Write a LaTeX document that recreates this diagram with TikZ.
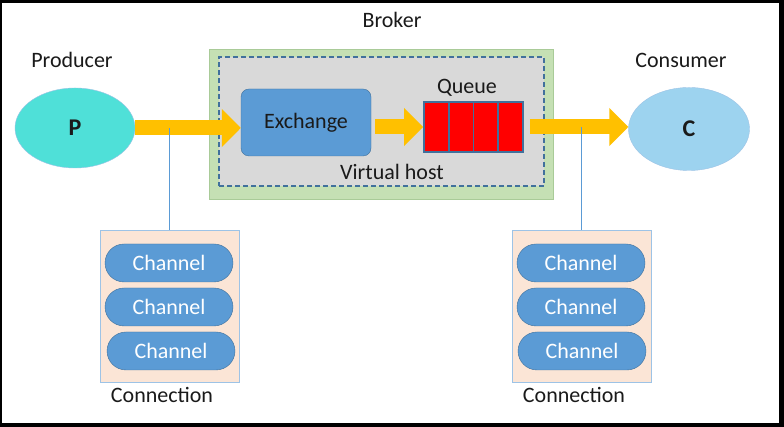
\documentclass[tikz,border=0pt]{standalone}
\usepackage{fontspec}
\setmainfont{Carlito}
\usetikzlibrary{arrows.meta,positioning,shapes.geometric}

\definecolor{txt}{HTML}{1A1A1A}
\definecolor{prodfill}{HTML}{4FE0D8}
\definecolor{consfill}{HTML}{9DD3EF}
\definecolor{brokfill}{HTML}{C5E0B4}
\definecolor{brokline}{HTML}{A9CB98}
\definecolor{hostfill}{HTML}{D9D9D9}
\definecolor{darkblue}{HTML}{41719C}
\definecolor{midblue}{HTML}{5B9BD5}
\definecolor{lightblue}{HTML}{9DC3E6}
\definecolor{connfill}{HTML}{FBE5D6}
\definecolor{flowcol}{HTML}{FFC000}

\begin{document}
\begin{tikzpicture}[x=1pt,y=1pt,node distance=44pt,font=\fontsize{22}{26}\selectfont]
  \tikzstyle{caption}=[text=txt,inner sep=0pt]
  \tikzstyle{client}=[ellipse,draw=lightblue,thin,text=txt,font=\fontsize{24}{28}\selectfont\bfseries]
  \tikzstyle{chan}=[draw=darkblue,fill=midblue,text=white,rounded corners=19pt,minimum width=128pt,minimum height=38pt,inner sep=0pt]
  \tikzstyle{conn}=[draw=lightblue,fill=connfill,minimum width=139pt,minimum height=152pt]
  \tikzstyle{cell}=[draw=darkblue,line width=1.8pt,fill=red,minimum width=24.75pt,minimum height=50pt,inner sep=0pt]
  \tikzstyle{flow}=[draw=flowcol,line width=15pt,-{Triangle[length=19pt,width=37pt]}]
  \tikzstyle{link}=[draw=midblue,line width=1.2pt]

  % frame
  \useasboundingbox (0,0) rectangle (784,427);
  \fill[black] (0,0) rectangle (784,427);
  \fill[white] (2,4) rectangle (779,424);

  % broker
  \node[draw=brokline,fill=brokfill,minimum width=344pt,minimum height=150pt] (broker) at (381,303) {};
  \node[draw=darkblue,dash pattern=on 5pt off 3pt,line width=1.3pt,fill=hostfill,minimum width=325pt,minimum height=129pt] (vhost) at (381.5,305.5) {};
  \node[caption] (brokerlbl) at (392,407) {Broker};
  \node[caption] (vhostlbl) at (392,255) {Virtual host};

  \node[draw=darkblue,fill=midblue,text=txt,rounded corners=8pt,minimum width=130pt,minimum height=67pt] (ex) at (306,304.5) {Exchange};

  \node[draw=darkblue,line width=1.8pt,minimum width=99pt,minimum height=50pt] (q) at (473.5,300) {};
  \foreach \i in {0,...,3}
    \node[cell] (q\i) at (436.4+\i*24.75,300) {};
  \node[caption] (queuelbl) at (467,339) {Queue};

  % clients
  \node[client,fill=prodfill,minimum width=120pt,minimum height=80pt] (P) at (75,299) {P};
  \node[client,fill=consfill,minimum width=121pt,minimum height=83pt] (C) at (689,298) {C};
  \node[caption] (prodlbl) at (72,367) {Producer};
  \node[caption] (conslbl) at (681,367) {Consumer};

  % connections
  \node[conn] (conL) at (169.5,121) {};
  \node[chan] (chL1) at (169,164) {Channel};
  \node[chan] (chL2) [below of=chL1] {Channel};
  \node[chan] (chL3) [below of=chL2,xshift=2pt] {Channel};
  \node[caption] (connLlbl) at (162,32) {Connection};

  \node[conn] (conR) at (581.5,121) {};
  \node[chan] (chR1) at (581,164) {Channel};
  \node[chan] (chR2) [below of=chR1] {Channel};
  \node[chan] (chR3) [below of=chR2,xshift=1pt] {Channel};
  \node[caption] (connRlbl) at (574,32) {Connection};

  % message flow
  \draw[flow] (P.east) -- (P.east -| ex.west);
  \draw[flow] ([xshift=4pt]ex.east |- q.west) -- (q.west);
  \draw[flow] ([xshift=6pt]q.east) -- (q.east -| C.west);

  \draw[link] (conL.north) -- (conL.north |- P.east);
  \draw[link] (conR.north) -- (conR.north |- q.east);
\end{tikzpicture}
\end{document}
